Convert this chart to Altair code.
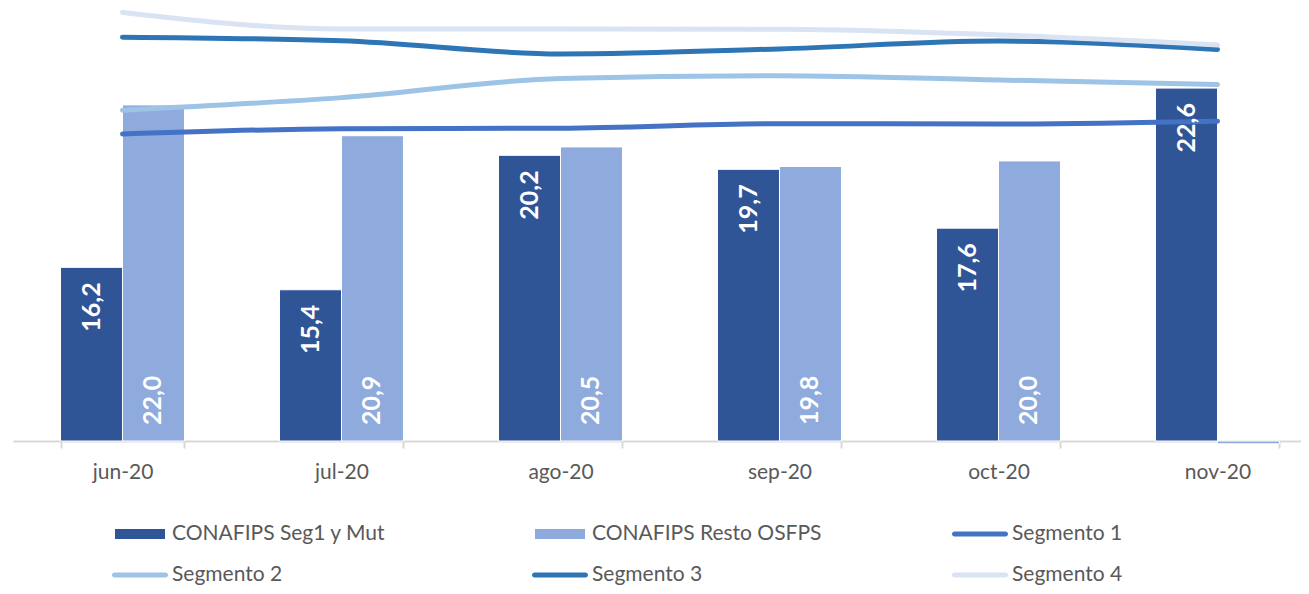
import altair as alt
import pandas as pd

months = ["jun-20", "jul-20", "ago-20", "sep-20", "oct-20", "nov-20"]
bar_series = ["CONAFIPS Seg1 y Mut", "CONAFIPS Resto OSFPS"]
line_series = ["Segmento 1", "Segmento 2", "Segmento 3", "Segmento 4"]

seg1_mut = [16.2, 15.4, 20.2, 19.7, 17.6, 22.6]
resto = [22.0, 20.9, 20.5, 19.8, 20.0, 9.9]
resto_shown = [True, True, True, True, True, False]

segmento1 = [20.96, 21.15, 21.17, 21.33, 21.32, 21.42]
segmento2 = [21.81, 22.26, 22.94, 23.04, 22.89, 22.73]
segmento3 = [24.42, 24.29, 23.82, 24.00, 24.28, 23.98]
segmento4 = [25.30, 24.71, 24.71, 24.70, 24.50, 24.14]

all_series = bar_series + line_series
colors = ["#2F5597", "#8FAADC", "#4472C4", "#9DC3E6", "#2E75B6", "#DAE3F3"]

# legend symbol shapes (unit coordinates)
rect_path = "M-0.893,-0.179H0.893V0.179H-0.893Z"
line_path = ("M-0.911,-0.089H0.911A0.089,0.089,0,0,1,0.911,0.089"
             "H-0.911A0.089,0.089,0,0,1,-0.911,-0.089Z")
shapes = [rect_path, rect_path, line_path, line_path, line_path, line_path]

def fmt(v):
    return f"{v:.1f}".replace(".", ",")

bar_rows = []
for i, m in enumerate(months):
    bar_rows.append({"month": m, "series": bar_series[0], "value": seg1_mut[i],
                     "base": 10, "label": fmt(seg1_mut[i]), "color": colors[0]})
    bar_rows.append({"month": m, "series": bar_series[1], "value": resto[i],
                     "base": 10, "label": fmt(resto[i]) if resto_shown[i] else "",
                     "color": colors[1]})
bars_df = pd.DataFrame(bar_rows)

line_rows = []
for s, vals, c in zip(line_series, [segmento1, segmento2, segmento3, segmento4], colors[2:]):
    for m, v in zip(months, vals):
        line_rows.append({"month": m, "series": s, "value": v, "color": c})
lines_df = pd.DataFrame(line_rows)

FONT = "Lato"
ydom = [10, 25.46]

x_scale = alt.Scale(domain=months, range=[0, 1314], paddingInner=0.434, paddingOuter=0.217)
x_enc = alt.X("month:N", sort=months, title=None, scale=x_scale,
              axis=alt.Axis(labelFont=FONT, labelFontSize=21, labelColor="#595959",
                            domainColor="#D9D9D9", domainWidth=2, tickColor="#D9D9D9",
                            tickWidth=2, tickSize=7, tickBand="extent", labelPadding=13,
                            labelAngle=0, grid=False))
y_scale = alt.Scale(domain=ydom, zero=False, nice=False)

bars = alt.Chart(bars_df).mark_bar(stroke="white", strokeWidth=1).encode(
    x=x_enc,
    xOffset=alt.XOffset("series:N", sort=bar_series),
    y=alt.Y("value:Q", scale=y_scale, axis=None),
    y2="base:Q",
    color=alt.Color("color:N", scale=None),
)

lab_dark = alt.Chart(bars_df).transform_filter(
    alt.datum.series == bar_series[0]
).mark_text(angle=270, align="right", baseline="middle", dx=-15,
            font=FONT, fontSize=25, fontWeight="bold", color="white").encode(
    x=alt.X("month:N", sort=months),
    xOffset=alt.XOffset("series:N", sort=bar_series),
    y=alt.Y("value:Q", scale=y_scale),
    text="label:N",
)

lab_light = alt.Chart(bars_df).transform_filter(
    alt.datum.series == bar_series[1]
).mark_text(angle=270, align="left", baseline="middle", dx=16,
            font=FONT, fontSize=25, fontWeight="bold", color="white").encode(
    x=alt.X("month:N", sort=months),
    xOffset=alt.XOffset("series:N", sort=bar_series),
    y=alt.Y("base:Q", scale=y_scale),
    text="label:N",
)

lines = alt.Chart(lines_df).mark_line(strokeWidth=5, strokeCap="round",
                                      interpolate="monotone").encode(
    x=alt.X("month:N", sort=months),
    y=alt.Y("value:Q", scale=y_scale),
    color=alt.Color("color:N", scale=None),
    detail="series:N",
)

legend_pts = alt.Chart(lines_df).transform_filter("false").mark_point(filled=True).encode(
    x=alt.X("month:N", sort=months),
    y=alt.Y("value:Q", scale=y_scale),
    color=alt.Color("series:N", scale=alt.Scale(domain=all_series, range=colors),
                    legend=alt.Legend(title=None, orient="none", legendX=99, legendY=498,
                                      direction="horizontal",
                                      columns=3, gridAlign="all", columnPadding=129,
                                      rowPadding=3, symbolSize=3136, symbolStrokeWidth=0,
                                      labelOffset=4, labelFont=FONT, labelFontSize=21,
                                      labelColor="#595959", labelLimit=400, padding=0)),
    shape=alt.Shape("series:N", scale=alt.Scale(domain=all_series, range=shapes)),
)

chart = alt.layer(bars, lines, lab_dark, lab_light, legend_pts).properties(
    width=1288, height=433,
    autosize=alt.AutoSizeParams(type="none"),
    padding={"left": 5, "top": 0, "right": 0, "bottom": 145},
).configure(background="white").configure_view(stroke=None)

chart.save("out.html", embed_options={"renderer": "svg", "actions": False})
